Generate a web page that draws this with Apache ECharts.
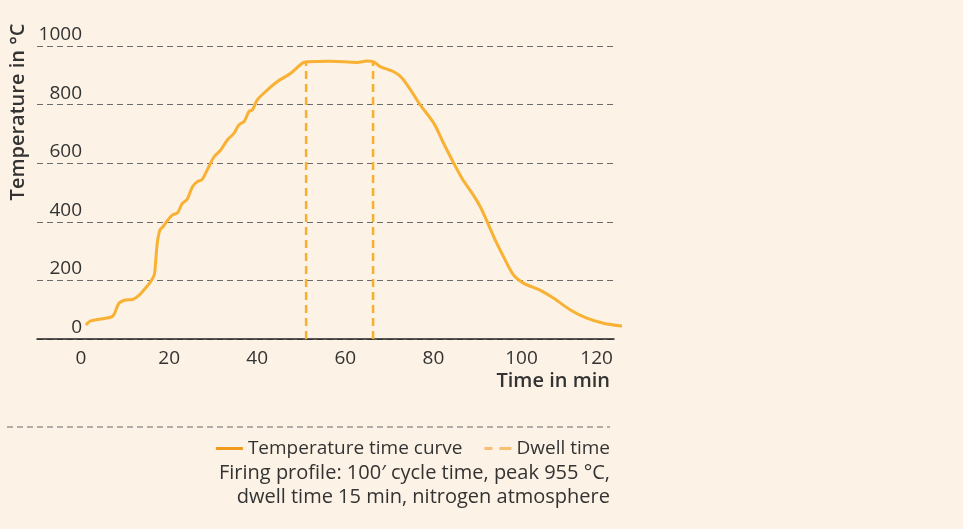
<!DOCTYPE html>
<html><head><meta charset="utf-8">
<script src="https://cdn.jsdelivr.net/npm/echarts@6/dist/echarts.min.js"></script>
<style>html,body{margin:0;padding:0;background:#FCF2E5;}#c{width:963px;height:529px;}</style>
</head><body><div id="c"></div>
<script>
// time in min
const timeMin = [1.1,2.2,6.7,7.5,8.6,10.1,11.7,13.2,14.7,15.8,16.6,16.9,17.3,17.9,18.6,19.6,20.7,21.9,23.0,24.1,25.3,26.4,27.5,29.0,30.2,31.7,33.2,34.7,35.8,37.0,37.4,38.1,38.9,40.0,42.3,44.5,47.6,50.2,51.3,56.6,62.7,64.9,66.4,68.0,71.0,72.9,74.8,77.0,80.1,82.3,84.6,86.5,89.1,90.6,92.2,94.0,95.9,98.2,100.5,104.2,107.3,111.1,114.8,118.6,122.8];
// temperature in °C
const tempC = [48,62,74,84,122,133,135,150,175,196,218,258,327,372,383,404,423,431,463,477,520,537,545,588,622,645,679,702,730,742,753,776,782,816,850,878,907,941,946,948,944,949,946,929,912,890,850,799,736,668,600,548,490,452,400,338,281,218,190,167,139,99,71,54,44];
const dwellStart = 51.1, dwellEnd = 66.3, dwellTemp = 946;
const xTicks = [0,20,40,60,80,100,120];
const yTicks = [0,200,400,600,800,1000];
const legendNames = ['Temperature time curve','Dwell time'];
const noteLines = ['Firing profile: 100\u2032 cycle time, peak 955 \u00b0C,','dwell time 15 min, nitrogen atmosphere'];

const FONT = '"Open Sans", "Noto Sans", sans-serif';
const curve = timeMin.map((t,i)=>[t,tempC[i]]);
const chart = echarts.init(document.getElementById('c'), null, {renderer:'canvas'});
chart.setOption({
  backgroundColor:'#FCF2E5',
  animation:false,
  grid:[{left:37,right:963-614,top:46,bottom:529-339,containLabel:false},
        {left:37,right:963-622,top:46,bottom:529-339,containLabel:false}],
  xAxis:[{type:'value',gridIndex:0,min:-10,max:121,interval:10,
    axisLine:{show:true,lineStyle:{color:'#222',width:1.5}},
    axisTick:{show:false},splitLine:{show:false},
    axisLabel:{margin:10,fontFamily:FONT,fontSize:19,color:'#333',
      formatter:v=>{ if(!xTicks.includes(v)) return ''; return v===120?'{s|120}':String(v);},
      rich:{s:{fontFamily:FONT,fontSize:19,color:'#333',padding:[0,26,0,0]}}}},
    {type:'value',gridIndex:1,min:-10,max:122.8,show:false}],
  yAxis:[{type:'value',gridIndex:0,min:0,max:1000,interval:200,
    axisLine:{show:false},axisTick:{show:false},
    splitLine:{show:true,lineStyle:{color:'#6b6b6b',width:1.2,type:[6,4]}},
    axisLabel:{inside:true,margin:45,align:'right',verticalAlign:'bottom',padding:[0,0,2,0],
      fontFamily:FONT,fontSize:19,color:'#333',
      formatter:v=>yTicks.includes(v)?String(v):''}},
    {type:'value',gridIndex:1,min:0,max:1000,show:false}],
  legend:{right:348,top:434,itemWidth:27,itemHeight:10,itemGap:22,
    textStyle:{fontFamily:FONT,fontSize:19,color:'#333',padding:[0,0,0,0]},
    data:[{name:legendNames[0],icon:'path://M0,3.5 L27,3.5 L27,6.5 L0,6.5 Z',itemStyle:{color:'#F29A1E'}},
          {name:legendNames[1],icon:'path://M0,3.5 L8,3.5 L8,6.5 L0,6.5 Z M15,3.5 L27,3.5 L27,6.5 L15,6.5 Z',itemStyle:{color:'#F8BF72'}}]},
  series:[
    {name:legendNames[0],type:'line',xAxisIndex:1,yAxisIndex:1,data:curve,showSymbol:false,symbol:'none',smooth:0.3,
     lineStyle:{color:'#F8B133',width:3},itemStyle:{color:'#F8B133'},z:3},
    {name:legendNames[1],type:'line',data:[[dwellStart,0],[dwellStart,dwellTemp]],symbol:'none',
     lineStyle:{color:'#F7AF30',width:2.5,type:[8,5]},itemStyle:{color:'#F7AF30'},z:2},
    {name:legendNames[1],type:'line',data:[[dwellEnd,0],[dwellEnd,dwellTemp]],symbol:'none',
     lineStyle:{color:'#F7AF30',width:2.5,type:[8,5]},itemStyle:{color:'#F7AF30'},z:2}
  ],
  graphic:[
    {type:'text',x:18,y:112,rotation:Math.PI/2,style:{text:'Temperature in \u00b0C',font:'600 20px '+FONT,fill:'#333',align:'center',verticalAlign:'middle'}},
    {type:'text',x:610,y:381,style:{text:'Time in min',font:'600 20px '+FONT,fill:'#333',align:'right',verticalAlign:'middle'}},
    {type:'line',shape:{x1:7,y1:427,x2:610,y2:427},style:{stroke:'#6b6b6b',lineWidth:1.2,lineDash:[6,4]}},
    {type:'text',x:610,y:473,style:{text:noteLines[0],font:'20px '+FONT,fill:'#333',align:'right',verticalAlign:'middle'}},
    {type:'text',x:610,y:497,style:{text:noteLines[1],font:'20px '+FONT,fill:'#333',align:'right',verticalAlign:'middle'}}
  ]
});
</script></body></html>
